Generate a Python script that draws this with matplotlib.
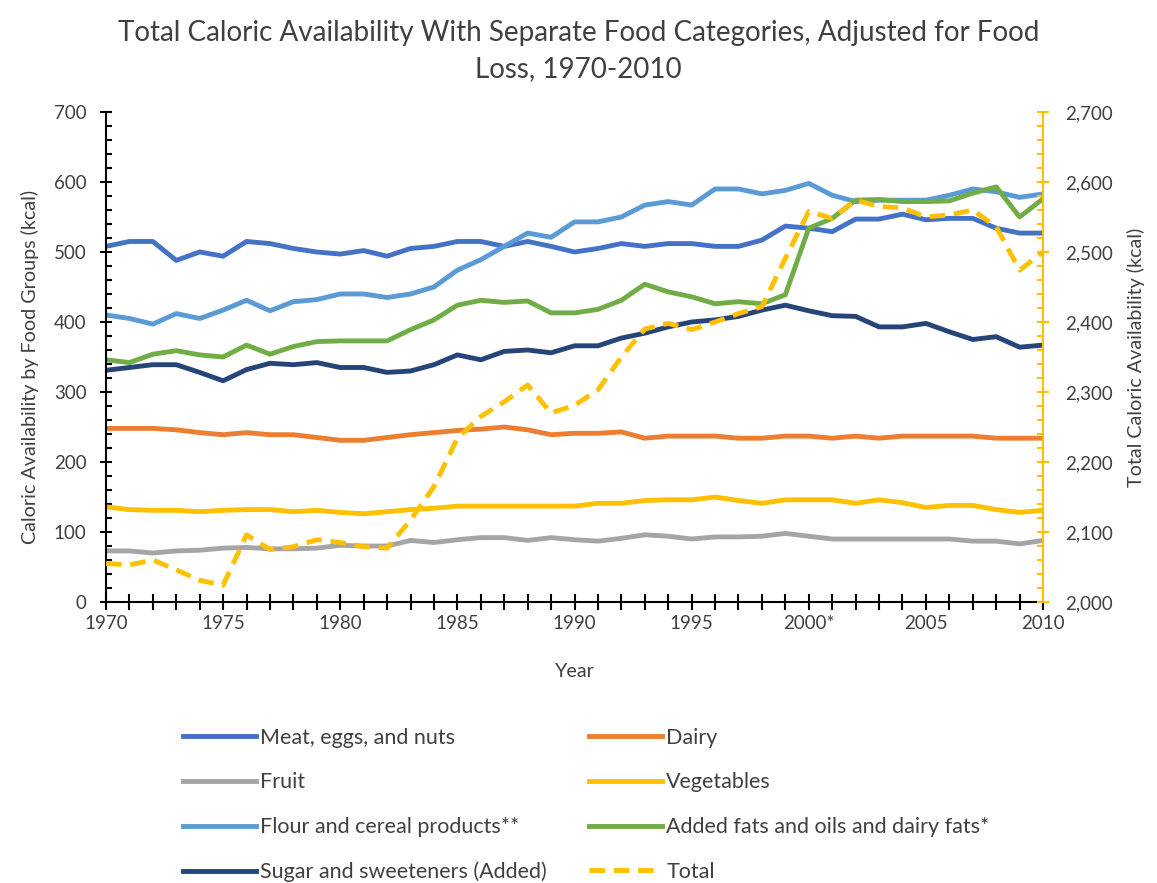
import numpy as np
import matplotlib
matplotlib.use('Agg')
import matplotlib.pyplot as plt
from matplotlib.ticker import MultipleLocator, FuncFormatter

plt.rcParams['font.family'] = ['Lato', 'DejaVu Sans']

# data
years = list(range(1970, 2011))

meat = [508, 515, 515, 488, 500, 494, 515, 512, 505, 500, 497, 502, 494, 505, 508, 515, 515, 508, 515, 508, 500,
        505, 512, 508, 512, 512, 508, 508, 517, 537, 534, 529, 547, 547, 554, 546, 548, 548, 534, 527, 527]
dairy = [248, 248, 248, 246, 242, 239, 242, 239, 239, 235, 231, 231, 235, 239, 242, 245, 247, 250, 246, 239, 241,
         241, 243, 234, 237, 237, 237, 234, 234, 237, 237, 234, 237, 234, 237, 237, 237, 237, 234, 234, 234]
fruit = [73, 73, 70, 73, 74, 77, 78, 76, 76, 77, 81, 80, 80, 88, 85, 89, 92, 92, 88, 92, 89,
         87, 91, 96, 94, 90, 93, 93, 94, 98, 94, 90, 90, 90, 90, 90, 90, 87, 87, 83, 88]
vegetables = [136, 132, 131, 131, 129, 131, 132, 132, 129, 131, 128, 126, 129, 132, 134, 137, 137, 137, 137, 137, 137,
              141, 141, 145, 146, 146, 150, 145, 141, 146, 146, 146, 141, 146, 142, 135, 138, 138, 132, 128, 131]
flour = [410, 405, 397, 412, 405, 417, 431, 416, 429, 432, 440, 440, 435, 440, 450, 474, 489, 508, 527, 521, 543,
         543, 550, 567, 572, 567, 590, 590, 583, 588, 598, 581, 572, 574, 574, 574, 581, 590, 586, 578, 583]
fats = [346, 342, 354, 359, 353, 350, 367, 354, 365, 372, 373, 373, 373, 389, 403, 424, 431, 428, 430, 413, 413,
        418, 431, 454, 443, 436, 426, 429, 426, 439, 534, 548, 574, 575, 572, 572, 573, 584, 593, 550, 576]
sugar = [331, 335, 339, 339, 328, 316, 332, 341, 339, 342, 335, 335, 328, 330, 339, 353, 346, 358, 360, 356, 366,
         366, 377, 384, 393, 400, 403, 408, 417, 424, 416, 409, 408, 393, 393, 398, 386, 375, 379, 364, 367]
total = [2055, 2053, 2060, 2046, 2031, 2024, 2096, 2075, 2079, 2089, 2085, 2079, 2077, 2117, 2165, 2234, 2265, 2286, 2310, 2270, 2281,
         2303, 2350, 2390, 2398, 2389, 2400, 2412, 2422, 2491, 2558, 2548, 2574, 2565, 2563, 2550, 2553, 2560, 2536, 2474, 2500]

xtick_years = [1970, 1975, 1980, 1985, 1990, 1995, 2000, 2005, 2010]
xtick_labels = ['1970', '1975', '1980', '1985', '1990', '1995', '2000*', '2005', '2010']

title = 'Total Caloric Availability With Separate Food Categories, Adjusted for Food\nLoss, 1970-2010'

txt = '#404040'
lw = 3.5

fig = plt.figure(figsize=(11.57, 8.83), dpi=100)
ax = fig.add_axes([0.0916, 0.3182, 0.8099, 0.555])
ax2 = ax.twinx()

l_meat, = ax.plot(years, meat, color='#4472C4', lw=lw, label='Meat, eggs, and nuts')
l_dairy, = ax.plot(years, dairy, color='#ED7D31', lw=lw, label='Dairy')
l_fruit, = ax.plot(years, fruit, color='#A5A5A5', lw=lw, label='Fruit')
l_veg, = ax.plot(years, vegetables, color='#FFC000', lw=lw, label='Vegetables')
l_flour, = ax.plot(years, flour, color='#5B9BD5', lw=lw, label='Flour and cereal products**')
l_fats, = ax.plot(years, fats, color='#70AD47', lw=lw, label='Added fats and oils and dairy fats*')
l_sugar, = ax.plot(years, sugar, color='#264478', lw=lw, label='Sugar and sweeteners (Added)')
l_total, = ax2.plot(years, total, color='#FFC000', lw=lw, ls=(0, (3.2, 1.8)), label='Total')

ax.set_xlim(1970, 2010)
ax.set_ylim(0, 700)
ax2.set_ylim(2000, 2700)

for s in ['top', 'right']:
    ax.spines[s].set_visible(False)
for s in ['top', 'left', 'bottom']:
    ax2.spines[s].set_visible(False)
ax.spines['left'].set_linewidth(1.5)
ax.spines['bottom'].set_linewidth(1.5)
ax2.spines['right'].set_color('#FFC000')
ax2.spines['right'].set_linewidth(1.5)

ax.set_xticks(xtick_years)
ax.set_xticklabels(xtick_labels)
ax.xaxis.set_minor_locator(MultipleLocator(1))
ax.set_yticks(range(0, 701, 100))
ax.yaxis.set_minor_locator(MultipleLocator(20))
ax2.set_yticks(range(2000, 2701, 100))
ax2.yaxis.set_minor_locator(MultipleLocator(20))
ax2.yaxis.set_major_formatter(FuncFormatter(lambda v, p: f'{int(v):,}'))

ax.tick_params(axis='x', which='both', direction='inout', length=11, width=1.5, labelsize=13.5, labelcolor=txt, pad=4)
ax.tick_params(axis='y', which='major', direction='inout', length=8, width=1.5, labelsize=13.5, labelcolor=txt, pad=10)
ax.tick_params(axis='y', which='minor', direction='in', length=4, width=1.5)
ax2.tick_params(axis='y', which='major', direction='inout', length=8, width=1.5, color='#FFC000', labelsize=13.5, labelcolor=txt, pad=12)
ax2.tick_params(axis='y', which='minor', direction='in', length=4, width=1.5, color='#FFC000')

ax.set_ylabel('Caloric Availability by Food Groups (kcal)', fontsize=14.2, color=txt)
ax.yaxis.set_label_coords(-0.0715, 0.48)
ax2.set_ylabel('Total Caloric Availability (kcal)', fontsize=14.2, color=txt)
ax2.yaxis.set_label_coords(1.0897, 0.5)
ax.set_xlabel('Year', fontsize=14.2, color=txt)
ax.xaxis.set_label_coords(0.5, -0.1245)

fig.text(0.5, 1 - 51 / 883, title, ha='center', va='center', fontsize=20, color=txt, linespacing=1.45)

handles = [l_meat, l_fruit, l_flour, l_sugar, l_dairy, l_veg, l_fats, l_total]
fig.legend(handles=handles, labels=[h.get_label() for h in handles], ncol=2, loc='center',
           bbox_to_anchor=(586 / 1157, 1 - 805 / 883), frameon=False, fontsize=15.5,
           handlelength=3.4, handletextpad=0.2, labelspacing=1.15, columnspacing=1.95, labelcolor=txt)

fig.savefig('out.png', dpi=100)
